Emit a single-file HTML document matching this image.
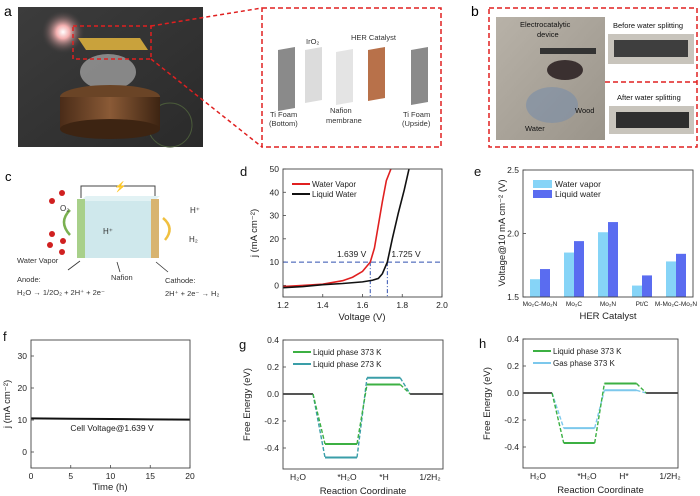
<!DOCTYPE html>
<html><head><meta charset="utf-8"><style>
html,body{margin:0;padding:0;background:#fff;}
svg{display:block;font-family:"Liberation Sans",Arial,sans-serif;}
</style></head><body>
<svg id="fig" width="700" height="496" viewBox="0 0 700 496" xmlns="http://www.w3.org/2000/svg">
<defs>
<radialGradient id="glow" cx="0.5" cy="0.5" r="0.5"><stop offset="0" stop-color="#fff"/><stop offset="0.3" stop-color="#f4b0b0"/><stop offset="1" stop-color="#3a3a3a" stop-opacity="0"/></radialGradient>
<linearGradient id="darkbg" x1="0" y1="0" x2="1" y2="1"><stop offset="0" stop-color="#3c3c3c"/><stop offset="1" stop-color="#2a2a2a"/></linearGradient>
<linearGradient id="wood" x1="0" x2="1"><stop offset="0" stop-color="#4a2c18"/><stop offset="0.5" stop-color="#8a5a36"/><stop offset="1" stop-color="#3d2412"/></linearGradient>
<linearGradient id="photo" x1="0" y1="0" x2="1" y2="1"><stop offset="0" stop-color="#b8b2a8"/><stop offset="1" stop-color="#9a948a"/></linearGradient>
</defs>

<!-- Panel a -->
<g>
<text x="4" y="16" font-size="14">a</text>
<rect x="18" y="7" width="185" height="140" fill="url(#darkbg)"/>
<circle cx="63" cy="32" r="22" fill="url(#glow)"/>
<circle cx="170" cy="125" r="22" fill="none" stroke="#4a5a3a" stroke-width="1"/>
<polygon points="78,38 140,38 148,50 86,50" fill="#c9a23c"/>
<ellipse cx="108" cy="72" rx="28" ry="18" fill="#bfbfbf" opacity="0.6"/>
<ellipse cx="110" cy="97" rx="50" ry="12" fill="#6a4426"/>
<rect x="60" y="97" width="100" height="32" fill="url(#wood)"/>
<ellipse cx="110" cy="129" rx="50" ry="10" fill="#3d2412"/>
<rect x="73" y="26" width="78" height="33" fill="none" stroke="#e02020" stroke-width="1.5" stroke-dasharray="4,3"/>
<line x1="151" y1="26" x2="262" y2="8" stroke="#e02020" stroke-width="1.5" stroke-dasharray="4,3"/>
<line x1="151" y1="59" x2="262" y2="147" stroke="#e02020" stroke-width="1.5" stroke-dasharray="4,3"/>
<rect x="262" y="8" width="179" height="139" fill="#fff" stroke="#e02020" stroke-width="1.5" stroke-dasharray="5,3"/>
<polygon points="278,50 295,47 295,108 278,111" fill="#8a8a8a"/>
<polygon points="305,50 322,47 322,100 305,103" fill="#dcdcdc"/>
<polygon points="336,52 353,49 353,102 336,105" fill="#e4e4e4"/>
<polygon points="368,50 385,47 385,98 368,101" fill="#b8714a"/>
<polygon points="411,50 428,47 428,102 411,105" fill="#8a8a8a"/>
<g font-size="7.5" fill="#333">
<text x="306" y="44">IrO₂</text>
<text x="351" y="40">HER Catalyst</text>
<text x="270" y="117">Ti Foam</text>
<text x="269" y="126">(Bottom)</text>
<text x="330" y="113">Nafion</text>
<text x="326" y="123">membrane</text>
<text x="403" y="117">Ti Foam</text>
<text x="402" y="126">(Upside)</text>
</g>
</g>

<!-- Panel b -->
<g>
<text x="471" y="16" font-size="14">b</text>
<rect x="489" y="8" width="208" height="139" fill="#fff" stroke="#e02020" stroke-width="1.5" stroke-dasharray="5,3"/>
<rect x="496" y="17" width="109" height="123" fill="url(#photo)"/>
<ellipse cx="552" cy="105" rx="26" ry="18" fill="#7a8ea8" opacity="0.6"/>
<rect x="540" y="48" width="56" height="6" fill="#333"/>
<ellipse cx="565" cy="70" rx="18" ry="10" fill="#3a3030"/>
<g font-size="7.5" fill="#111">
<text x="520" y="27">Electrocatalytic</text>
<text x="537" y="37">device</text>
<text x="575" y="113">Wood</text>
<text x="525" y="131">Water</text>
<text x="613" y="28">Before water splitting</text>
<text x="617" y="100">After water splitting</text>
</g>
<rect x="608" y="34" width="86" height="30" fill="#c8c4bc"/>
<rect x="614" y="40" width="74" height="17" fill="#3e3e3e"/>
<line x1="605" y1="82" x2="697" y2="82" stroke="#e02020" stroke-width="1.5" stroke-dasharray="5,3"/>
<rect x="609" y="106" width="85" height="28" fill="#c8c4bc"/>
<rect x="616" y="112" width="73" height="16" fill="#2e2e2e"/>
</g>

<!-- Panel c -->
<g>
<text x="5" y="181" font-size="13">c</text>
<polyline points="81,198 81,186 155,186 155,198" fill="none" stroke="#444" stroke-width="1"/>
<text x="114" y="190" font-size="10" fill="#f0c020">⚡</text>
<polygon points="80,201 86,196 160,196 154,201" fill="#e2f2f4"/>
<rect x="80" y="201" width="74" height="57" fill="#cfe8ec"/>
<rect x="77" y="199" width="8" height="59" fill="#a8d08a"/>
<rect x="151" y="199" width="8" height="59" fill="#d8b470"/>
<circle cx="62" cy="193" r="3" fill="#d02020"/><circle cx="52" cy="201" r="3" fill="#d02020"/><circle cx="52" cy="234" r="3" fill="#d02020"/><circle cx="63" cy="241" r="3" fill="#d02020"/><circle cx="50" cy="245" r="3" fill="#d02020"/><circle cx="62" cy="252" r="3" fill="#d02020"/>
<path d="M70,235 Q58,222 70,210" fill="none" stroke="#7ab050" stroke-width="2.5"/>
<path d="M163,218 Q175,228 165,240" fill="none" stroke="#f0c040" stroke-width="2.5"/>
<g font-size="8" fill="#333">
<text x="60" y="211">O₂</text>
<text x="103" y="234">H⁺</text>
<text x="190" y="213">H⁺</text>
<text x="189" y="242">H₂</text>
<text x="17" y="263" font-size="7.5">Water Vapor</text>
<text x="17" y="282" font-size="7.5">Anode:</text>
<text x="17" y="295" font-size="7.5">H₂O → 1/2O₂ + 2H⁺ + 2e⁻</text>
<text x="111" y="280" font-size="7.5">Nafion</text>
<text x="165" y="283" font-size="7.5">Cathode:</text>
<text x="165" y="296" font-size="7.5">2H⁺ + 2e⁻ → H₂</text>
</g>
<line x1="80" y1="261" x2="68" y2="270" stroke="#333" stroke-width="0.8"/>
<line x1="117" y1="262" x2="120" y2="272" stroke="#333" stroke-width="0.8"/>
<line x1="156" y1="262" x2="168" y2="272" stroke="#333" stroke-width="0.8"/>
</g>

<g id="charts"></g>
</svg>
<script>
// ---- data ----
const dVapV=[1.2,1.3,1.4,1.5,1.55,1.6,1.639,1.66,1.68,1.7,1.72,1.743];
const dVapJ=[-0.5,0,0.5,2,3.5,6,10,16,26,36,45,50];
const dLiqV=[1.2,1.3,1.4,1.5,1.6,1.65,1.68,1.7,1.725,1.75,1.78,1.81,1.834];
const dLiqJ=[-1,-0.5,0.3,0.8,1.5,2.2,3,5,10,20,31,41,50];
const dMarkV=[1.639,1.725];
const dXTicks=[1.2,1.4,1.6,1.8,2.0];
const dYTicks=[0,10,20,30,40,50];
const eCats=["Mo₂C-Mo₂N","Mo₂C","Mo₂N","Pt/C","M-Mo₂C-Mo₂N"];
const eVapor=[1.64,1.85,2.01,1.59,1.78];
const eLiquid=[1.72,1.94,2.09,1.67,1.84];
const eYTicks=[1.5,2.0,2.5];
const fTime=[0,5,10,15,20];
const fJ=[10.5,10.4,10.3,10.2,10.1];
const fXTicks=[0,5,10,15,20];
const fYTicks=[0,10,20,30];
const gCats=["H₂O","*H₂O","*H","1/2H₂"];
const g373=[0,-0.37,0.07,0];
const g273=[0,-0.47,0.12,0];
const hCats=["H₂O","*H₂O","H*","1/2H₂"];
const hLiq=[0,-0.37,0.07,0];
const hGas=[0,-0.26,0.02,0];
const ghYTicks=[-0.4,-0.2,0.0,0.2,0.4];

const NS='http://www.w3.org/2000/svg';
const root=document.getElementById('charts');
function mk(p,tag,at,txt){const e=document.createElementNS(NS,tag);for(const k in at)e.setAttribute(k,at[k]);if(txt!==undefined)e.textContent=txt;p.appendChild(e);return e;}
function grp(name){const g=mk(root,'g',{});


return g;}
function frame(g,x0,y0,x1,y1){const r=mk(g,'rect',{x:x0,y:y0,width:x1-x0,height:y1-y0,fill:'none',stroke:'#444','stroke-width':0.9});

}
function tickLabel(g,x,y,t,anchor,name){const e=mk(g,'text',{x:x,y:y,'font-size':8.5,fill:'#222','text-anchor':anchor},t);


return e;}
function tick(g,x1,y1,x2,y2){const l=mk(g,'line',{x1:x1,y1:y1,x2:x2,y2:y2,stroke:'#444','stroke-width':0.8});

}
function vtitle(g,x,y,t,name){const e=mk(g,'text',{x:x,y:y,'font-size':9.5,fill:'#222','text-anchor':'middle',transform:`rotate(-90 ${x} ${y})`},t);

}
function htitle(g,x,y,t,name){const e=mk(g,'text',{x:x,y:y,'font-size':9.5,fill:'#222','text-anchor':'middle'},t);

}
function letter(g,x,y,t){const e=mk(g,'text',{x:x,y:y,'font-size':13,fill:'#111'},t);

}
function legendLine(g,x,y,color,t,name){const l=mk(g,'line',{x1:x,y1:y,x2:x+18,y2:y,stroke:color,'stroke-width':2});


const e=mk(g,'text',{x:x+20,y:y+3,'font-size':8,fill:'#222'},t);

}

// ---- panel d ----
(function(){
const g=grp('panel-d');
const X0=283,X1=442,Y0=169,Y1=297;
const xd=v=>X0+(v-1.2)/0.8*(X1-X0), yd=j=>Y1-(j+5)/55*(Y1-Y0);
letter(g,240,176,'d');
const clip=mk(g,'clipPath',{id:'clipd'});mk(clip,'rect',{x:X0,y:Y0,width:X1-X0,height:Y1-Y0});
dXTicks.forEach(v=>{tick(g,xd(v),Y1,xd(v),Y1-3);tickLabel(g,xd(v),Y1+11,v.toFixed(1),'middle','x-tick-label-d');});
dYTicks.forEach(v=>{tick(g,X0,yd(v),X0+3,yd(v));tickLabel(g,X0-4,yd(v)+3,String(v),'end','y-tick-label-d');});
const hl=mk(g,'line',{x1:X0,y1:yd(10),x2:X1,y2:yd(10),stroke:'#3050b0','stroke-width':1,'stroke-dasharray':'5,3'});


dMarkV.forEach(v=>{const l=mk(g,'line',{x1:xd(v),y1:yd(10),x2:xd(v),y2:Y1,stroke:'#3050b0','stroke-width':1,'stroke-dasharray':'4,2,1,2'});

});
tickLabel(g,xd(dMarkV[0])-4,yd(10)-5,dMarkV[0].toFixed(3)+' V','end','label-1639');
tickLabel(g,xd(dMarkV[1])+4,yd(10)-5,dMarkV[1].toFixed(3)+' V','start','label-1725');
const pl=(V,J,c,n)=>{const p=mk(g,'polyline',{points:V.map((v,i)=>xd(v)+','+yd(J[i])).join(' '),fill:'none',stroke:c,'stroke-width':1.6,'clip-path':'url(#clipd)'});

};
pl(dVapV,dVapJ,'#e02020','water-vapor-curve');
pl(dLiqV,dLiqJ,'#111','liquid-water-curve');
frame(g,X0,Y0,X1,Y1);
legendLine(g,292,184,'#e02020','Water Vapor','legend-water-vapor');
legendLine(g,292,194,'#111','Liquid Water','legend-liquid-water');
htitle(g,362,320,'Voltage (V)','x-axis-title-d');
vtitle(g,257,233,'j (mA cm⁻²)','y-axis-title-d');
})();

// ---- panel e ----
(function(){
const g=grp('panel-e');
const X0=523,X1=693,Y0=170,Y1=297;
const ye=v=>Y1-(v-1.5)/1.0*(Y1-Y0);
const gw=(X1-X0)/eCats.length;
letter(g,474,176,'e');
eYTicks.forEach(v=>{tick(g,X0,ye(v),X0+3,ye(v));tickLabel(g,X0-4,ye(v)+3,v.toFixed(1),'end','y-tick-label-e');});
eCats.forEach((c,i)=>{const cx=X0+gw*(i+0.5);
const b1=mk(g,'rect',{x:cx-10,y:ye(eVapor[i]),width:10,height:Y1-ye(eVapor[i]),fill:'#86d4f7'});


const b2=mk(g,'rect',{x:cx,y:ye(eLiquid[i]),width:10,height:Y1-ye(eLiquid[i]),fill:'#5a6cf0'});


const t=tickLabel(g,cx,Y1+9,c,'middle','x-category-label');t.setAttribute('font-size',6.5);});
frame(g,X0,Y0,X1,Y1);
const s1=mk(g,'rect',{x:533,y:180,width:19,height:8,fill:'#86d4f7'});


const s2=mk(g,'rect',{x:533,y:190,width:19,height:8,fill:'#5a6cf0'});


tickLabel(g,555,187,'Water vapor','start','legend-water-vapor');
tickLabel(g,555,197,'Liquid water','start','legend-liquid-water');
htitle(g,608,319,'HER Catalyst','x-axis-title-e');
vtitle(g,505,233,'Voltage@10 mA cm⁻² (V)','y-axis-title-e');
})();

// ---- panel f ----
(function(){
const g=grp('panel-f');
const X0=31,X1=190,Y0=340,Y1=468;
const xf=t=>X0+t/20*(X1-X0), yf=j=>Y1-(j+5)/40*(Y1-Y0);
letter(g,3,341,'f');
fXTicks.forEach(v=>{tick(g,xf(v),Y1,xf(v),Y1-3);tickLabel(g,xf(v),Y1+11,String(v),'middle','x-tick-label-f');});
fYTicks.forEach(v=>{tick(g,X0,yf(v),X0+3,yf(v));tickLabel(g,X0-4,yf(v)+3,String(v),'end','y-tick-label-f');});
const p=mk(g,'polyline',{points:fTime.map((t,i)=>xf(t)+','+yf(fJ[i])).join(' '),fill:'none',stroke:'#111','stroke-width':2});


frame(g,X0,Y0,X1,Y1);
tickLabel(g,112,431,'Cell Voltage@1.639 V','middle','annotation-cell-voltage');
htitle(g,110,490,'Time (h)','x-axis-title-f');
vtitle(g,10,404,'j (mA cm⁻²)','y-axis-title-f');
})();

// ---- energy diagrams ----
function energy(name,L,X0,X1,Y0,Y1,zeroY,cats,sA,sB,cA,cB,nA,nB){
const g=grp(name);
const yg=e=>zeroY-e*135;
const w=(X1-X0)/4;
const seg=[[0,0.75],[1.05,1.85],[2.1,2.93],[3.18,4]];
const sx=u=>X0+u*w;
letter(g,X0-44,Y0+9,L);
ghYTicks.forEach(v=>{tick(g,X0,yg(v),X0+3,yg(v));tickLabel(g,X0-4,yg(v)+3,v.toFixed(1),'end','y-tick-label-'+L);});
cats.forEach((c,i)=>{tickLabel(g,X0+[15,64,101,147][i],Y1+11,c,'middle','x-category-label-'+L);});
[[sB,cB,nB],[sA,cA,nA]].forEach(([S,col,n])=>{
S.forEach((v,i)=>{const zero=(i===0||i===S.length-1);
const l=mk(g,'line',{x1:sx(seg[i][0]),y1:yg(v),x2:sx(seg[i][1]),y2:yg(v),stroke:zero?'#555':col,'stroke-width':2});


if(i<S.length-1){const c=mk(g,'line',{x1:sx(seg[i][1]),y1:yg(v),x2:sx(seg[i+1][0]),y2:yg(S[i+1]),stroke:col,'stroke-width':1.4,'stroke-dasharray':'4,2'});

}
});});
frame(g,X0,Y0,X1,Y1);
legendLine(g,X0+10,Y0+12,cA,nA==='liquid-373k'?'Liquid phase 373 K':'',  'legend-'+nA);
legendLine(g,X0+10,Y0+24,cB,nB==='liquid-273k'?'Liquid phase 273 K':'Gas phase 373 K','legend-'+nB);
htitle(g,(X0+X1)/2,Y1+25,'Reaction Coordinate','x-axis-title-'+L);
vtitle(g,X0-33,(Y0+Y1)/2,'Free Energy (eV)','y-axis-title-'+L);
}
energy('panel-g','g',283,443,340,469,394,gCats,g373,g273,'#3cb043','#3a9ea8','liquid-373k','liquid-273k');
energy('panel-h','h',523,678,339,468,393,hCats,hLiq,hGas,'#3cb043','#7cc8ec','liquid-373k','gas-373k');
</script>
</body></html>
